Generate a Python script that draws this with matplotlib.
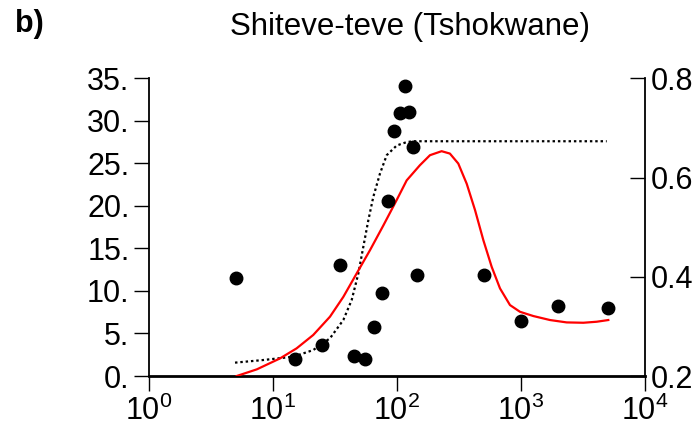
import matplotlib
matplotlib.use("Agg")
import matplotlib.pyplot as plt
from matplotlib.ticker import FixedLocator, FixedFormatter, NullLocator

plt.rcParams['font.family'] = ['Liberation Sans', 'DejaVu Sans']
plt.rcParams['mathtext.fontset'] = 'custom'
plt.rcParams['mathtext.rm'] = 'Liberation Sans'

# ---- data ----
title = "Shiteve-teve (Tshokwane)"
panel = "b)"

obs_x = [5, 15, 25, 35, 45, 55, 65, 75, 85, 95, 105, 115, 125, 135, 145, 500, 1000, 2000, 5000]
obs_y = [11.5, 2.0, 3.6, 13.0, 2.3, 2.0, 5.8, 9.8, 20.6, 28.8, 30.9, 34.1, 31.0, 26.9, 11.9, 11.9, 6.5, 8.2, 7.95]

fit_x = [5.1, 7.4, 11.4, 15.5, 21.1, 28.8, 36.9, 47.3, 60.6, 77.6, 99.5, 119.7, 153, 184.5, 229, 267,
         312, 365, 426, 497, 580, 677, 815, 981, 1257, 1713, 2336, 3183, 4078, 5058]
fit_y = [0.0, 0.78, 2.07, 3.25, 4.82, 6.97, 9.3, 12.06, 14.8, 17.7, 20.7, 23.0, 24.78, 25.96, 26.43, 26.15,
         24.98, 22.6, 19.5, 15.97, 12.84, 10.3, 8.34, 7.55, 7.05, 6.58, 6.3, 6.26, 6.38, 6.58]

sig_x = [4.94, 8.36, 14.6, 21.1, 28.8, 36.9, 43.1, 48.8, 53.5, 58.7, 64.4, 72.9, 82.6, 99.5, 119.7, 135.5, 4910]
sig_y = [1.57, 1.88, 2.27, 3.05, 4.43, 6.58, 8.93, 12.06, 15.19, 18.3, 21.06, 23.8, 25.96, 27.1, 27.5, 27.6, 27.6]

x_ticks = [1, 10, 100, 1000, 10000]
x_labels = [r'$\mathregular{10^{0}}$', r'$\mathregular{10^{1}}$', r'$\mathregular{10^{2}}$',
            r'$\mathregular{10^{3}}$', r'$\mathregular{10^{4}}$']
yl_ticks = [0, 5, 10, 15, 20, 25, 30, 35]
yl_labels = ['0.', '5.', '10.', '15.', '20.', '25.', '30.', '35.']
yr_ticks = [0.2, 0.4, 0.6, 0.8]
yr_labels = ['0.2', '0.4', '0.6', '0.8']

# ---- figure ----
W, H = 700, 430
fig = plt.figure(figsize=(7, 4.3), dpi=100)
ax = fig.add_axes([149 / W, 54 / H, 496 / W, (376 - 78.3) / H])

ax.plot(sig_x, sig_y, color='black', lw=1.6, linestyle=(0, (1.1, 1.3)), zorder=2)
ax.plot(fit_x, fit_y, color='#ff0000', lw=1.6, zorder=3)
ax.plot(obs_x, obs_y, 'o', color='black', ms=9, zorder=4)

ax.set_xscale('log')
ax.set_xlim(1, 10000)
ax.set_ylim(0, 35)
ax.xaxis.set_major_locator(FixedLocator(x_ticks))
ax.xaxis.set_major_formatter(FixedFormatter(x_labels))
ax.xaxis.set_minor_locator(NullLocator())
ax.yaxis.set_major_locator(FixedLocator(yl_ticks))
ax.yaxis.set_major_formatter(FixedFormatter(yl_labels))

for s in ['top', 'right']:
    ax.spines[s].set_visible(False)
ax.spines['left'].set_linewidth(1.3)
ax.spines['bottom'].set_linewidth(2.0)
ax.tick_params(axis='both', direction='out', length=11, width=1.0, labelsize=22, colors='black', pad=3)
ax.tick_params(axis='x', pad=3)

ax2 = ax.twinx()
ax2.set_ylim(0.2, 0.8)
ax2.yaxis.set_major_locator(FixedLocator(yr_ticks))
ax2.yaxis.set_major_formatter(FixedFormatter(yr_labels))
for s in ['top', 'left', 'bottom']:
    ax2.spines[s].set_visible(False)
ax2.spines['right'].set_linewidth(1.3)
ax2.tick_params(axis='y', direction='in', length=11, width=1.0, labelsize=22, pad=4)

fig.text(409.5 / W, 1 - 35 / H, title, ha='center', va='baseline', fontsize=22.5)
fig.text(15 / W, 1 - 32 / H, panel, ha='left', va='baseline', fontsize=22, fontweight='bold')

fig.savefig('out.png', dpi=100)
